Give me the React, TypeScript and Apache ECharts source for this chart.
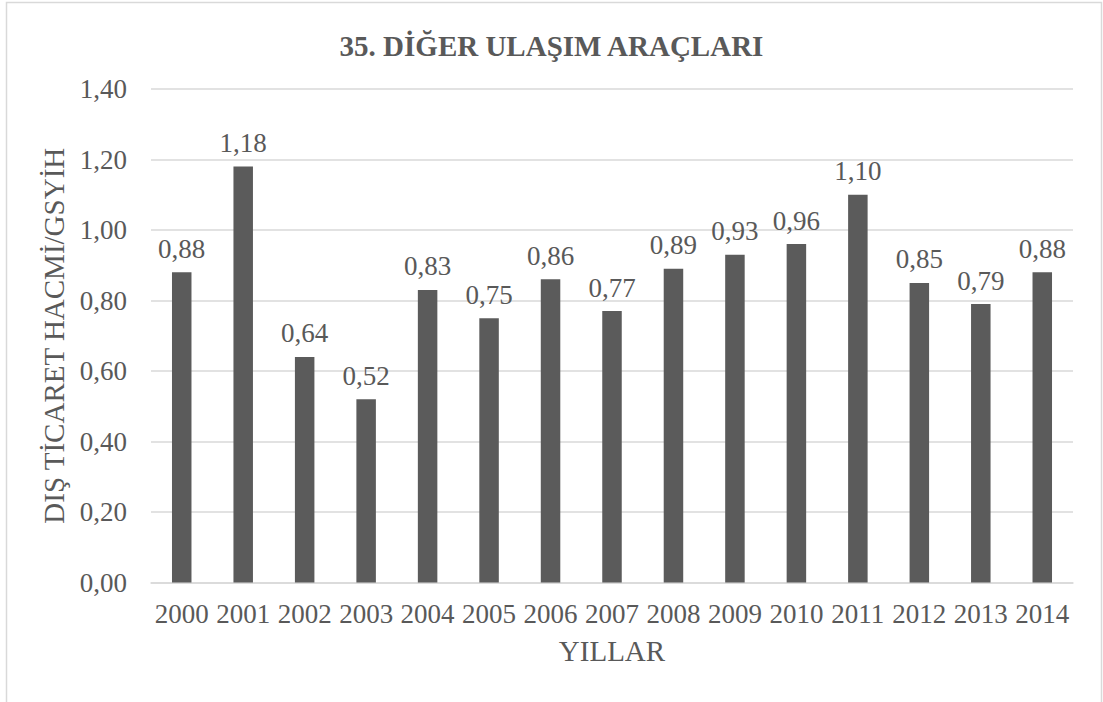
import React, { useEffect, useRef } from "react";
import * as echarts from "echarts";

const TITLE = "35. DİĞER ULAŞIM ARAÇLARI";
const Y_NAME = "DIŞ TİCARET HACMİ/GSYİH";
const X_NAME = "YILLAR";
const years = ["2000", "2001", "2002", "2003", "2004", "2005", "2006", "2007", "2008", "2009", "2010", "2011", "2012", "2013", "2014"];
const values = [0.88, 1.18, 0.64, 0.52, 0.83, 0.75, 0.86, 0.77, 0.89, 0.93, 0.96, 1.10, 0.85, 0.79, 0.88];

const FONT = '"Liberation Serif", "Times New Roman", serif';
const TEXT = "#595959";
const fmt = (v: number) => v.toFixed(2).replace(".", ",");

export default function App() {
  const ref = useRef<HTMLDivElement>(null);
  useEffect(() => {
    document.body.style.margin = "0";
    const chart = echarts.init(ref.current!, undefined, { renderer: "svg" });
    chart.setOption({
      animation: false,
      backgroundColor: "#ffffff",
      textStyle: { fontFamily: FONT },
      title: {
        text: TITLE,
        left: "center",
        top: 26,
        textStyle: { fontFamily: FONT, fontSize: 29, fontWeight: "bold", color: TEXT },
      },
      graphic: [
        {
          type: "rect",
          shape: { x: 6.5, y: 2.5, width: 1095, height: 740 },
          style: { fill: "none", stroke: "#d9d9d9", lineWidth: 1.5 },
          silent: true,
        },
      ],
      grid: { left: 151, right: 30, top: 89, bottom: 119.5 },
      xAxis: {
        type: "category",
        data: years,
        name: X_NAME,
        nameLocation: "middle",
        nameGap: 54,
        nameTextStyle: { fontFamily: FONT, fontSize: 29, color: TEXT },
        axisLine: { show: true, lineStyle: { color: "#d9d9d9", width: 1.5 } },
        axisTick: { show: false },
        axisLabel: { fontFamily: FONT, fontSize: 27, color: TEXT, margin: 18, interval: 0 },
      },
      yAxis: {
        type: "value",
        min: 0,
        max: 1.4,
        interval: 0.2,
        name: Y_NAME,
        nameLocation: "middle",
        nameGap: 62,
        nameTextStyle: { fontFamily: FONT, fontSize: 29, color: TEXT },
        axisLine: { show: false },
        axisTick: { show: false },
        splitLine: { lineStyle: { color: "#d9d9d9", width: 1.5 } },
        axisLabel: { fontFamily: FONT, fontSize: 27, color: TEXT, margin: 24, formatter: (v: number) => fmt(v) },
      },
      series: [
        {
          type: "bar",
          data: values,
          barWidth: 19.5,
          itemStyle: { color: "#5b5b5b" },
          label: {
            show: true,
            position: "top",
            distance: 10,
            fontFamily: FONT,
            fontSize: 27,
            color: TEXT,
            formatter: (p: any) => fmt(p.value),
          },
        },
      ],
    });
    return () => chart.dispose();
  }, []);
  return <div ref={ref} style={{ width: 1103, height: 702 }} />;
}
